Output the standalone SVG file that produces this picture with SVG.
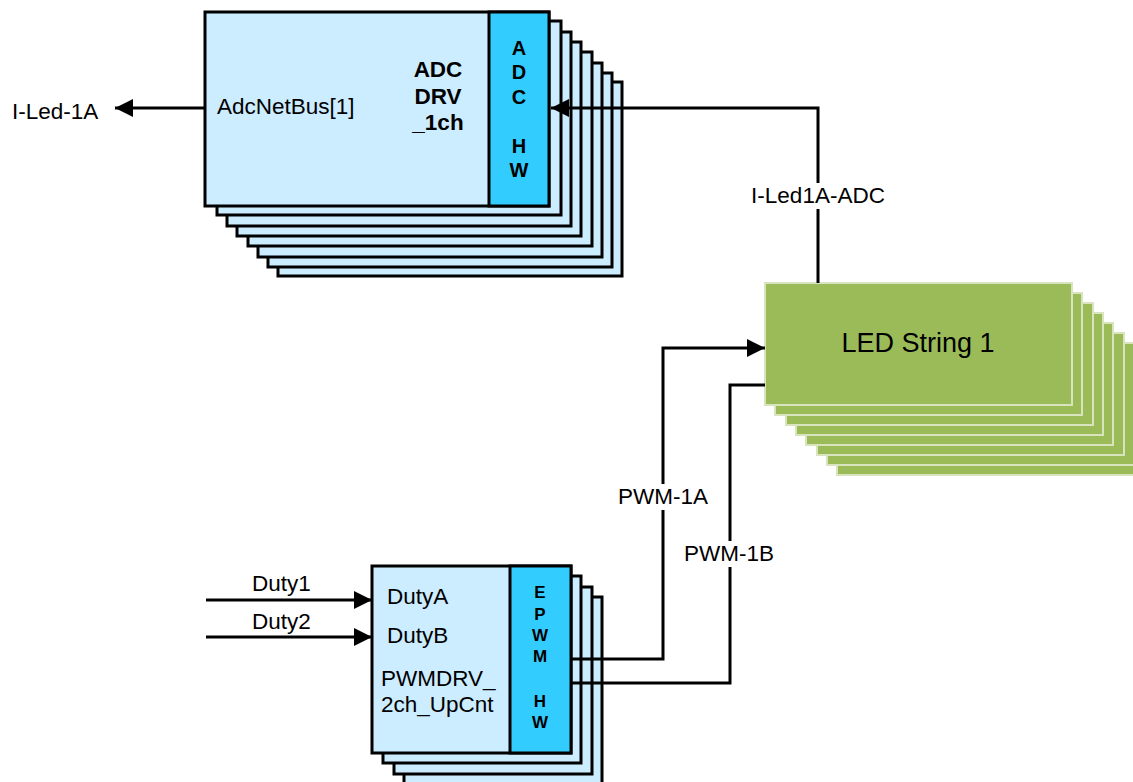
<svg xmlns="http://www.w3.org/2000/svg" width="1133" height="782" viewBox="0 0 1133 782">
<style>
text{font-family:"Liberation Sans",Arial,sans-serif;fill:#000}
.t{font-size:22.5px}
.b{font-size:22.5px;font-weight:bold}
.hw{font-size:20px;font-weight:bold;text-anchor:middle}
.ep{font-size:17px;font-weight:bold;text-anchor:middle}
.blue{fill:#CCECFF;stroke:#000;stroke-width:3}
.hwc{fill:#33CCFF;stroke:#000;stroke-width:3}
.grn{fill:#9BBB59;stroke:#D7E4BD;stroke-width:2}
.ln{fill:none;stroke:#000;stroke-width:3}
.bg{fill:#fff}
</style>
<defs>
<marker id="ah" viewBox="0 0 18 18" refX="18" refY="9" markerWidth="18" markerHeight="18" markerUnits="userSpaceOnUse" orient="auto">
<path d="M0,0 L18,9 L0,18 Z" fill="#000"/>
</marker>
</defs>
<rect width="1133" height="782" fill="#fff"/>

<g id="adc-drv">
<rect class="blue" x="278" y="82" width="344" height="194"/>
<rect class="blue" x="268" y="73" width="344" height="194"/>
<rect class="blue" x="258" y="63" width="344" height="194"/>
<rect class="blue" x="248" y="52" width="344" height="194"/>
<rect class="blue" x="237" y="42" width="344" height="194"/>
<rect class="blue" x="227" y="32" width="344" height="194"/>
<rect class="blue" x="217" y="21" width="344" height="194"/>
<rect class="blue" x="205" y="12" width="344" height="194"/>
<rect class="hwc" x="489" y="12" width="60" height="194"/>
<text class="t" x="217" y="114">AdcNetBus[1]</text>
<text class="b" x="438" y="77" text-anchor="middle">ADC</text>
<text class="b" x="438" y="103.5" text-anchor="middle">DRV</text>
<text class="b" x="438" y="130" text-anchor="middle">_1ch</text>
<text class="hw" x="519" y="55">A</text>
<text class="hw" x="519" y="79">D</text>
<text class="hw" x="519" y="104">C</text>
<text class="hw" x="519" y="152.5">H</text>
<text class="hw" x="519" y="176.5">W</text>
</g>

<g id="led-string">
<rect class="grn" x="837" y="353" width="308" height="122"/>
<rect class="grn" x="827" y="343" width="307" height="122"/>
<rect class="grn" x="817" y="333" width="307" height="122"/>
<rect class="grn" x="806" y="323" width="307" height="122"/>
<rect class="grn" x="796" y="313" width="307" height="122"/>
<rect class="grn" x="786" y="303" width="307" height="122"/>
<rect class="grn" x="775" y="293" width="307" height="122"/>
<rect class="grn" x="765" y="283" width="307" height="122"/>
<text x="918" y="352" font-size="27" text-anchor="middle">LED String 1</text>
</g>

<g id="pwm-drv">
<rect class="blue" x="404" y="597" width="198" height="187"/>
<rect class="blue" x="394" y="587" width="198" height="187"/>
<rect class="blue" x="383" y="576" width="198" height="187"/>
<rect class="blue" x="372" y="566" width="199" height="187"/>
<rect class="hwc" x="510" y="566" width="61" height="187"/>
<text class="t" x="387" y="604">DutyA</text>
<text class="t" x="387" y="643">DutyB</text>
<text class="t" x="381" y="686">PWMDRV_</text>
<text class="t" x="381" y="712">2ch_UpCnt</text>
<text class="ep" x="540" y="598">E</text>
<text class="ep" x="540" y="620">P</text>
<text class="ep" x="540" y="641">W</text>
<text class="ep" x="540" y="662">M</text>
<text class="ep" x="540" y="707">H</text>
<text class="ep" x="540" y="728">W</text>
</g>

<g id="connectors">
<path class="ln" d="M205,108 H115" marker-end="url(#ah)"/>
<path class="ln" d="M818,283 V108 H551" marker-end="url(#ah)"/>
<path class="ln" d="M571,659 H663 V348 H765" marker-end="url(#ah)"/>
<path class="ln" d="M571,683 H730 V385 H765"/>
<path class="ln" d="M206,600 H372" marker-end="url(#ah)"/>
<path class="ln" d="M206,637 H372" marker-end="url(#ah)"/>
</g>

<g id="labels">
<text class="t" x="12" y="119">I-Led-1A</text>
<rect class="bg" x="746" y="183" width="144" height="26"/>
<text class="t" x="818" y="203" text-anchor="middle">I-Led1A-ADC</text>
<rect class="bg" x="614" y="484" width="98" height="26"/>
<text class="t" x="663" y="504" text-anchor="middle">PWM-1A</text>
<rect class="bg" x="681" y="541" width="97" height="26"/>
<text class="t" x="729" y="561" text-anchor="middle">PWM-1B</text>
<text class="t" x="252" y="591">Duty1</text>
<text class="t" x="252" y="629">Duty2</text>
</g>
</svg>
